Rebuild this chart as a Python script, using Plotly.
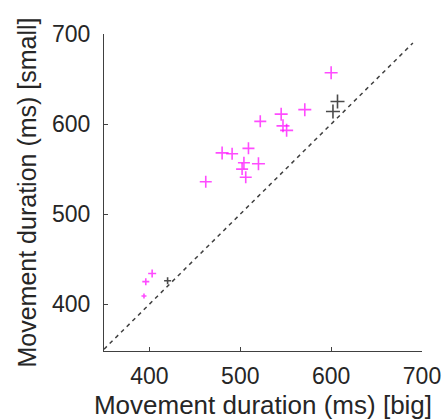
import plotly.graph_objects as go

# Movement durations (ms)
big_magenta = [600, 571, 545, 547, 551, 522, 509, 480, 491, 520, 504, 502, 506, 462, 403, 396, 394]
small_magenta = [657, 616, 611, 598, 593, 603, 573, 568, 567, 556, 557, 550, 541, 536, 434, 425, 409]
size_magenta = [13, 13, 13, 13, 13, 12, 12, 13, 12, 13, 12, 12, 12, 12, 8, 7, 5]

big_black = [607, 602, 420]
small_black = [625, 614, 426]
size_black = [14, 14, 7]

identity = [350, 690]

fig = go.Figure()
fig.add_trace(go.Scatter(
    x=identity, y=identity, mode="lines",
    line=dict(color="#404040", width=1.5, dash="4px,4px"),
    hoverinfo="skip", showlegend=False))
fig.add_trace(go.Scatter(
    x=big_magenta, y=small_magenta, mode="markers",
    marker=dict(symbol="cross-thin", size=[s / 1.4 for s in size_magenta],
                line=dict(color="#FF00FF", width=1.6)),
    showlegend=False))
fig.add_trace(go.Scatter(
    x=big_black, y=small_black, mode="markers",
    marker=dict(symbol="cross-thin", size=[s / 1.4 for s in size_black],
                line=dict(color="#000000", width=1.6)),
    showlegend=False))

font = "Liberation Sans, Arial, sans-serif"
axis_common = dict(
    showgrid=False, zeroline=False, showline=True, linecolor="#404040", linewidth=1.2,
    ticks="inside", ticklen=4, tickcolor="#404040", tickwidth=1,
    tickfont=dict(family=font, size=23, color="#262626"),
    tickvals=[400, 500, 600, 700], mirror=False,
)
fig.update_xaxes(range=[350, 700], title=dict(text="Movement duration (ms) [big]",
                 font=dict(family=font, size=26, color="#262626"), standoff=8),
                 ticklabelstandoff=4, **axis_common)
fig.update_yaxes(range=[348, 700], title=dict(text="Movement duration (ms) [small]",
                 font=dict(family=font, size=25, color="#262626"), standoff=8),
                 ticklabelstandoff=8, **axis_common)
fig.update_layout(
    width=442, height=420, margin=dict(l=104, r=20, t=34, b=69, autoexpand=False),
    paper_bgcolor="white", plot_bgcolor="white",
)
fig.write_html("out.html")
